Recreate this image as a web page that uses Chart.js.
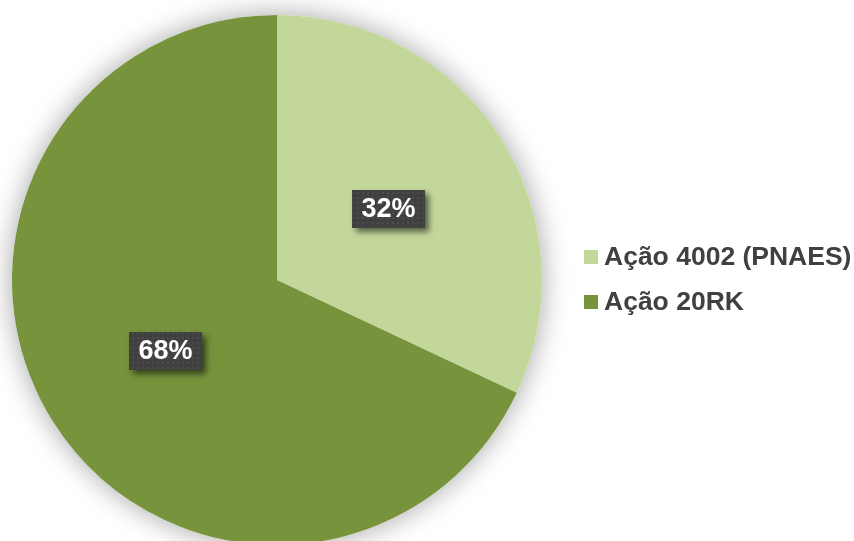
<!DOCTYPE html>
<html>
<head>
<meta charset="utf-8">
<script src="https://cdn.jsdelivr.net/npm/chart.js@4"></script>
<style>
  html, body { margin: 0; padding: 0; background: #ffffff; overflow: hidden; width: 854px; height: 541px; }
  #wrap { position: absolute; left: 0; top: 0; width: 854px; height: 560px; }
</style>
</head>
<body>
<div id="wrap"><canvas id="c"></canvas></div>
<script>
// Budget split between the two actions (percent of total)
const categories = ['Ação 4002 (PNAES)', 'Ação 20RK'];
const shares = [32, 68];
const sliceColors = ['#C4D79B', '#77933C'];

const FONT = '"Liberation Sans", Arial, sans-serif';

// Soft grey halo behind the whole pie
const haloPlugin = {
  id: 'halo',
  beforeDatasetsDraw(chart) {
    const arc = chart.getDatasetMeta(0).data[0];
    if (!arc) return;
    const ctx = chart.ctx;
    ctx.save();
    ctx.shadowColor = 'rgba(0,0,0,0.36)';
    ctx.shadowBlur = 28;
    ctx.beginPath();
    ctx.arc(arc.x, arc.y, arc.outerRadius, 0, Math.PI * 2);
    ctx.fillStyle = '#ffffff';
    ctx.fill();
    ctx.restore();
  }
};

// Dotted dark fill used by the percentage boxes
function makeDotPattern(ctx) {
  const tile = document.createElement('canvas');
  tile.width = 5; tile.height = 5;
  const t = tile.getContext('2d');
  t.fillStyle = '#404040';
  t.fillRect(0, 0, 5, 5);
  t.fillStyle = '#4c4c4c';
  t.fillRect(2, 2, 2, 2);
  return ctx.createPattern(tile, 'repeat');
}

// Percentage boxes placed at each slice's midpoint
const percentLabels = {
  id: 'percentLabels',
  afterDatasetsDraw(chart) {
    const ctx = chart.ctx;
    const meta = chart.getDatasetMeta(0);
    const values = chart.data.datasets[0].data;
    const total = values.reduce((a, b) => a + b, 0);
    const pattern = makeDotPattern(ctx);
    ctx.save();
    ctx.font = 'bold 27px ' + FONT;
    meta.data.forEach((el, i) => {
      const p = el.tooltipPosition();
      const text = Math.round(values[i] / total * 100) + '%';
      const w = ctx.measureText(text).width + 19;
      const h = 38;
      const x = Math.round(p.x - w / 2);
      const y = Math.round(p.y - h / 2);
      ctx.save();
      ctx.shadowColor = 'rgba(0,0,0,0.55)';
      ctx.shadowBlur = 6;
      ctx.shadowOffsetX = 4;
      ctx.shadowOffsetY = 4;
      ctx.fillStyle = '#404040';
      ctx.fillRect(x, y, w, h);
      ctx.restore();
      ctx.fillStyle = pattern;
      ctx.fillRect(x, y, w, h);
      ctx.fillStyle = '#ffffff';
      ctx.textAlign = 'center';
      ctx.textBaseline = 'middle';
      ctx.fillText(text, x + w / 2, y + h / 2 + 1);
    });
    ctx.restore();
  }
};

// Legend drawn to the right of the pie
const sideLegend = {
  id: 'sideLegend',
  afterDraw(chart) {
    const ctx = chart.ctx;
    const colors = chart.data.datasets[0].backgroundColor;
    const left = 584, top = 257, step = 45, box = 14;
    ctx.save();
    ctx.font = 'bold 26.5px ' + FONT;
    ctx.textBaseline = 'middle';
    ctx.textAlign = 'left';
    chart.data.labels.forEach((label, i) => {
      const cy = top + i * step;
      ctx.fillStyle = colors[i];
      ctx.fillRect(left, cy - box / 2, box, box);
      ctx.fillStyle = '#404040';
      ctx.fillText(label, left + box + 6, cy + 1);
    });
    ctx.restore();
  }
};

new Chart(document.getElementById('c'), {
  type: 'pie',
  data: {
    labels: categories,
    datasets: [{
      data: shares,
      backgroundColor: sliceColors,
      borderWidth: 0
    }]
  },
  options: {
    responsive: true,
    maintainAspectRatio: false,
    animation: false,
    layout: { padding: { left: 12, right: 312, top: 15, bottom: 15 } },
    plugins: {
      legend: { display: false },
      tooltip: { enabled: false }
    }
  },
  plugins: [haloPlugin, percentLabels, sideLegend]
});
</script>
</body>
</html>
